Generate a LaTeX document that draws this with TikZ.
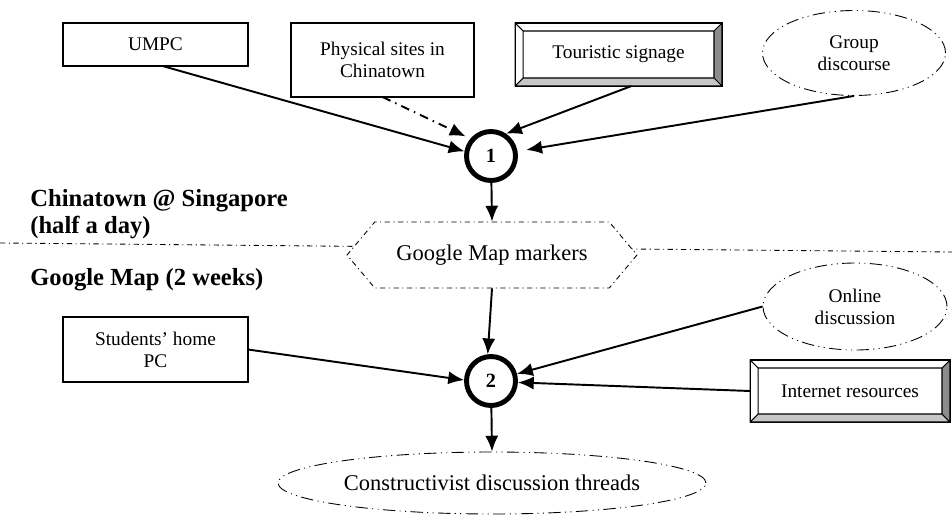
\documentclass[tikz,border=0pt]{standalone}
\usepackage{fontspec}
\setmainfont{Liberation Serif}
\usetikzlibrary{arrows.meta,calc,shapes.geometric,shapes.symbols}

\tikzset{
  gmline/.style={dash pattern=on 3pt off 2pt on 0.6pt off 2pt},
  bubbleline/.style={dash pattern=on 7pt off 2.5pt on 0.6pt off 2.5pt on 0.6pt off 2.5pt},
  plainbox/.style={draw, line width=0.6pt, outer sep=0pt, align=center, inner sep=1pt},
  bubble/.style={ellipse, draw, line width=0.5pt, bubbleline, align=center, inner sep=0pt},
  stage/.style={circle, draw, line width=2.8pt, minimum size=0.98cm, inner sep=0pt,
    font=\fontsize{11.5}{12}\selectfont\bfseries},
  flow/.style={-{Latex[length=9pt,width=7.5pt]}, line width=1.1pt},
  phase/.style={anchor=west, align=left, inner sep=0pt,
    font=\fontsize{14}{15.5}\selectfont\bfseries}
}

% bevelled frame round a named box
\newcommand{\bevelframe}[1]{%
  \fill[black!45] (#1.north east) -- (#1.south east) -- ($(#1.south east)+(-8,-8)$)
    -- ($(#1.north east)+(-8,8)$) -- cycle;
  \fill[black!22] (#1.south west) -- (#1.south east) -- ($(#1.south east)+(-8,-8)$)
    -- ($(#1.south west)+(8,-8)$) -- cycle;
  \draw[line width=0.6pt] (#1.north west) rectangle (#1.south east)
    ($(#1.north west)+(8,8)$) rectangle ($(#1.south east)+(-8,-8)$)
    (#1.north west) -- +(8,8) (#1.north east) -- +(-8,8)
    (#1.south west) -- +(8,-8) (#1.south east) -- +(-8,-8);
}

\begin{document}
\begin{tikzpicture}[x=0.02cm, y=-0.02cm, font=\fontsize{11}{12.5}\selectfont]
  \useasboundingbox (0,0) rectangle (952,514);

  % Chinatown part
  \node[plainbox, minimum width=3.7cm, minimum height=0.86cm] (umpc) at (155.5,44.5) {UMPC};
  \node[plainbox, minimum width=3.66cm, minimum height=1.48cm] (sites) at (382.5,60) {Physical sites in\\Chinatown};
  \node[plainbox, minimum width=4.14cm, minimum height=1.26cm] (sign) at (618.5,54.5) {Touristic signage};
  \bevelframe{sign}
  \node[bubble, minimum width=3.66cm, minimum height=1.7cm] (group) at (854,53) {Group\\discourse};
  \node[stage] (c1) at (491,156) {1};

  % divider, the markers sit on it
  \coordinate (lend) at (0,243);
  \coordinate (rend) at (952,252);
  \draw[gmline, line width=0.5pt] (lend) -- (rend);
  \node[signal, signal to=west and east, signal pointer angle=100, draw, line width=0.5pt, gmline,
    fill=white, minimum width=5.8cm, minimum height=1.32cm,
    font=\fontsize{12.8}{14}\selectfont] (gm) at (492,255) {Google Map markers};

  \node[phase] (p1) at (30,214) {Chinatown @ Singapore\\(half a day)};
  \node[phase] (p2) at (30,280) {Google Map (2 weeks)};

  % Google Map part
  \node[plainbox, minimum width=3.7cm, minimum height=1.3cm] (home) at (155.5,349.5) {Students' home\\PC};
  \node[bubble, minimum width=3.68cm, minimum height=1.74cm] (online) at (855,306.5) {Online\\discussion};
  \node[plainbox, minimum width=4.0cm, minimum height=1.24cm] (web) at (850,391) {Internet resources};
  \bevelframe{web}
  \node[stage] (c2) at (491,381) {2};
  \node[bubble, minimum width=8.56cm, minimum height=1.24cm,
    font=\fontsize{12.8}{14}\selectfont] (threads) at (492,483) {Constructivist discussion threads};

  \begin{scope}[flow]
    \draw ($(umpc.south)+(7,0)$) to (c1.170);
    \draw[dash pattern=on 5pt off 3pt on 0.8pt off 3pt, shorten >=3pt] (sites.south) to (c1.140);
    \draw ($(sign.south)+(13,0)$) to (c1.56);
    \draw[shorten >=5pt] (group.south) to (c1.10);
    \draw (c1) to (gm.north);
    \draw (gm.south) to (c2.97);
    \draw (home.east) to (c2.178);
    \draw (online.west) to (c2);
    \draw (web.west) to (c2.-3);
    \draw (c2) to (threads.north);
  \end{scope}
\end{tikzpicture}
\end{document}
